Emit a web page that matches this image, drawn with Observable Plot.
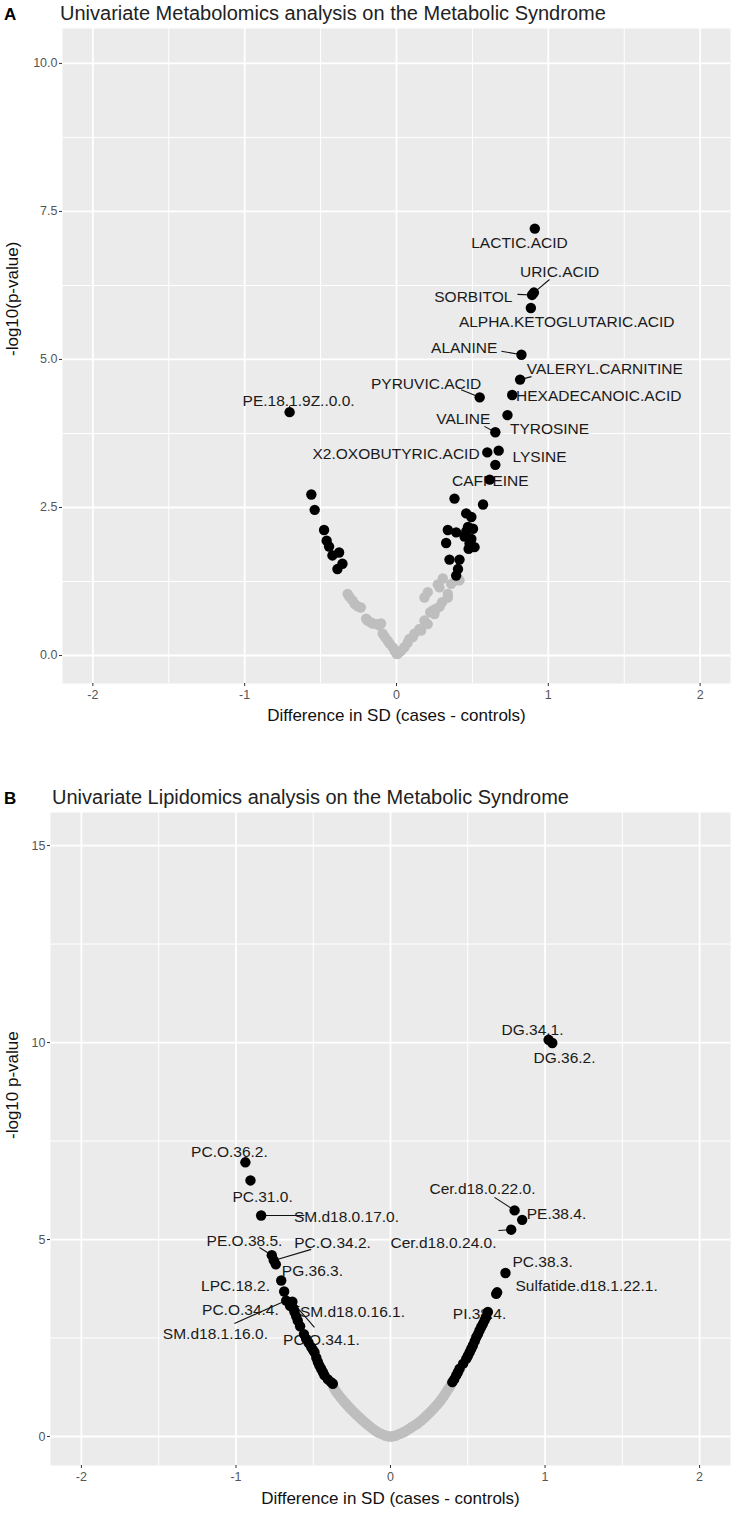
<!DOCTYPE html>
<html><head><meta charset="utf-8">
<script src="https://cdn.jsdelivr.net/npm/d3@7"></script>
<script src="https://cdn.jsdelivr.net/npm/@observablehq/plot@0.6"></script>
<style>
body{margin:0;background:#fff;font-family:"Liberation Sans",Arial,sans-serif;}
#page{position:relative;width:736px;height:1519px;overflow:hidden;background:#fff;}
.tag{position:absolute;font-weight:bold;font-size:17px;line-height:1;color:#000;z-index:2;}
.title{position:absolute;font-size:20px;line-height:1;color:#222;white-space:nowrap;z-index:2;}
.chart{position:absolute;left:0;z-index:1;}
</style></head><body>
<div id="page">
<div class="tag" style="left:4px;top:6px">A</div>
<div class="title" style="left:60px;top:3px">Univariate Metabolomics analysis on the Metabolic Syndrome</div>
<div id="chartA" class="chart" style="top:24px"></div>
<div class="tag" style="left:4px;top:790px">B</div>
<div class="title" style="left:52px;top:787px">Univariate Lipidomics analysis on the Metabolic Syndrome</div>
<div id="chartB" class="chart" style="top:804px"></div>
</div>
<script>
// ---------- shared axis ticks ----------
const xTicks = [-2, -1, 0, 1, 2];
const xMinor = [-1.5, -0.5, 0.5, 1.5];
const xTitle = "Difference in SD (cases - controls)";

// ---------- Panel A: metabolomics ----------
const metabNames = ["LACTIC.ACID","URIC.ACID","SORBITOL","ALPHA.KETOGLUTARIC.ACID","ALANINE","VALERYL.CARNITINE","HEXADECANOIC.ACID","PYRUVIC.ACID","PE.18.1.9Z..0.0.","TYROSINE","VALINE","LYSINE","X2.OXOBUTYRIC.ACID","CAFFEINE"];
const metabDiff  = [0.911,0.905,0.893,0.885,0.823,0.814,0.762,0.548,-0.704,0.731,0.651,0.673,0.598,0.614];
const metabLogP  = [7.21,6.13,6.09,5.87,5.08,4.66,4.40,4.36,4.11,4.06,3.77,3.46,3.43,2.97];
// label placement (repelled positions, data units) and leader-line starts
const metabLabX  = [0.810,1.074,0.506,1.121,0.446,1.372,1.332,0.195,-0.645,1.008,0.440,0.942,-0.003,0.618];
const metabLabY  = [6.96,6.47,6.05,5.64,5.20,4.83,4.39,4.58,4.29,3.82,3.99,3.36,3.41,2.94];
const metabSegX  = [null,1.008,0.797,null,0.691,0.889,null,0.426,-0.704,null,0.579,null,null,null];
const metabSegY  = [null,6.35,6.10,null,5.14,4.71,null,4.49,4.22,null,3.87,null,null,null];

const metabSigDiff = [0.651,0.382,0.570,0.459,0.493,0.338,0.393,0.471,0.504,0.448,0.493,0.481,0.327,0.475,0.514,0.349,0.415,0.405,0.393,0.460,0.487,-0.561,-0.539,-0.477,-0.460,-0.444,-0.378,-0.422,-0.356,-0.389];
const metabSigLogP = [3.22,2.65,2.55,2.40,2.34,2.12,2.08,2.17,2.14,2.01,1.97,1.89,1.90,1.80,1.83,1.62,1.62,1.46,1.35,2.10,1.93,2.72,2.46,2.12,1.94,1.84,1.74,1.69,1.55,1.46];

const metabNsDiff = [-0.322,-0.31,-0.29,-0.275,-0.255,-0.235,-0.20,-0.19,-0.17,-0.157,-0.13,-0.114,-0.102,-0.091,-0.075,-0.058,-0.045,-0.025,-0.012,0.0,0.008,0.02,0.03,0.052,0.074,0.085,0.107,0.118,0.151,0.162,0.184,0.206,0.222,0.239,0.25,0.261,0.283,0.30,0.338,0.36,0.393,0.415,0.184,0.206,0.272,0.305,0.338,0.283];
const metabNsLogP = [1.04,0.99,0.93,0.87,0.83,0.81,0.62,0.59,0.56,0.54,0.53,0.51,0.54,0.37,0.31,0.25,0.20,0.14,0.08,0.03,0.03,0.06,0.08,0.14,0.22,0.28,0.31,0.37,0.45,0.42,0.59,0.53,0.73,0.76,0.70,0.79,0.82,0.90,0.98,1.21,1.27,1.27,0.98,1.07,1.20,1.30,1.04,1.15];

const yTicksA = [0, 2.5, 5, 7.5, 10];
const yMinorA = [1.25, 3.75, 6.25, 8.75];

// ---------- Panel B: lipidomics ----------
const lipidNames = ["DG.34.1.","DG.36.2.","PC.O.36.2.","PC.31.0.","SM.d18.0.17.0.","Cer.d18.0.22.0.","PE.38.4.","Cer.d18.0.24.0.","PE.O.38.5.","PC.O.34.2.","PG.36.3.","PC.38.3.","Sulfatide.d18.1.22.1.","LPC.18.2.","PC.O.34.4.","SM.d18.0.16.1.","PI.38.4.","SM.d18.1.16.0.","PC.O.34.1."];
const lipidDiff  = [1.023,1.047,-0.939,-0.906,-0.837,0.803,0.852,0.781,-0.768,-0.755,-0.742,0.744,0.684,-0.707,-0.688,-0.650,0.630,-0.675,-0.635];
const lipidLogP  = [10.07,9.99,6.96,6.50,5.61,5.74,5.50,5.25,4.60,4.47,4.37,4.15,3.62,3.96,3.68,3.32,3.16,3.45,3.42];
const lipidLabX  = [0.919,1.126,-1.042,-0.828,-0.285,0.595,1.074,0.343,-0.945,-0.375,-0.505,0.984,1.269,-1.003,-0.971,-0.246,0.576,-1.133,-0.447];
const lipidLabY  = [10.33,9.62,7.23,6.09,5.58,6.27,5.66,4.92,4.97,4.92,4.21,4.42,3.81,3.83,3.20,3.15,3.12,2.61,2.44];
const lipidSegX  = [null,null,null,null,-0.557,0.673,null,0.699,-0.848,-0.513,null,null,null,null,null,-0.589,null,-1.010,-0.492];
const lipidSegY  = [null,null,null,null,5.61,6.07,null,5.23,4.80,4.75,null,null,null,null,null,3.30,null,2.87,2.77];

const lipidSigDiff = [-0.628,-0.621,-0.610,-0.600,-0.585,-0.560,-0.546,-0.530,-0.513,-0.502,-0.492,-0.480,-0.470,-0.460,-0.449,-0.437,-0.427,-0.405,-0.385,-0.373,
  0.400,0.412,0.425,0.436,0.447,0.470,0.490,0.501,0.512,0.522,0.533,0.545,0.555,0.566,0.576,0.587,0.598,0.609,0.619,0.690];
const lipidSigLogP = [3.25,3.16,3.05,2.94,2.80,2.60,2.48,2.38,2.27,2.20,2.14,2.00,1.89,1.80,1.72,1.63,1.55,1.45,1.38,1.34,
  1.38,1.45,1.55,1.63,1.72,1.85,1.97,2.05,2.14,2.22,2.31,2.42,2.52,2.60,2.69,2.78,2.86,2.95,3.03,3.66];

const lipidNsDiff = [-0.368,-0.36,-0.352,-0.343,-0.334,-0.325,-0.316,-0.306,-0.297,-0.288,-0.279,-0.270,-0.260,-0.250,-0.240,-0.230,-0.219,-0.208,-0.197,-0.186,-0.175,-0.163,-0.151,-0.139,-0.127,-0.115,-0.103,-0.091,-0.079,-0.067,-0.055,-0.043,-0.031,-0.019,-0.008,
  0.008,0.019,0.031,0.043,0.055,0.067,0.079,0.091,0.103,0.115,0.127,0.139,0.151,0.163,0.175,0.187,0.198,0.209,0.220,0.231,0.242,0.252,0.262,0.272,0.282,0.292,0.302,0.311,0.320,0.329,0.338,0.347,0.355,0.363,0.371,0.38,0.39];
const lipidNsLogP = [1.25,1.19,1.14,1.09,1.05,1.00,0.96,0.91,0.87,0.83,0.79,0.75,0.71,0.67,0.63,0.59,0.55,0.51,0.47,0.43,0.39,0.35,0.31,0.27,0.23,0.20,0.16,0.13,0.10,0.08,0.06,0.04,0.02,0.01,0.0,
  0.0,0.01,0.02,0.04,0.06,0.08,0.10,0.12,0.15,0.18,0.21,0.24,0.27,0.30,0.33,0.37,0.40,0.44,0.48,0.52,0.56,0.60,0.64,0.68,0.72,0.77,0.81,0.85,0.89,0.94,0.99,1.04,1.09,1.14,1.19,1.24,1.30];

const yTicksB = [0, 5, 10, 15];
const yMinorB = [2.5, 7.5, 12.5];

// ---------- build ----------
const FONT = '"Liberation Sans", Arial, sans-serif';
const zipPts = (xs, ys) => xs.map((x, i) => ({x, y: ys[i]}));
const zipLab = (names, xs, ys, lx, ly, sx, sy) => names.map((name, i) => ({name, x: xs[i], y: ys[i], lx: lx[i], ly: ly[i], sx: sx[i], sy: sy[i]}));

function volcano(o) {
  const labeled = zipLab(o.names, o.diff, o.logp, o.labX, o.labY, o.segX, o.segY);
  const segs = labeled.filter(d => d.sx != null);
  return Plot.plot({
    width: 736, height: o.height,
    marginTop: o.marginTop, marginBottom: o.marginBottom, marginLeft: o.marginLeft, marginRight: 6,
    x: {domain: [-2.2, 2.2], axis: null},
    y: {domain: o.yDomain, axis: null},
    style: {fontFamily: FONT, fontSize: "12.5px", color: "#555", background: "transparent", overflow: "visible"},
    marks: [
      Plot.frame({fill: "#ebebeb", stroke: "none"}),
      Plot.ruleX(xMinor, {stroke: "white", strokeWidth: 1}),
      Plot.ruleY(o.yMinor, {stroke: "white", strokeWidth: 1}),
      Plot.ruleX(xTicks, {stroke: "white", strokeWidth: 1.8}),
      Plot.ruleY(o.yTicks, {stroke: "white", strokeWidth: 1.8}),
      Plot.axisX({ticks: xTicks, tickSize: 3, tickPadding: 4, tickFormat: d => String(d), label: null, stroke: "#333"}),
      Plot.axisY({ticks: o.yTicks, tickSize: 3, tickPadding: 2, tickFormat: o.yFmt, label: null, stroke: "#333"}),
      Plot.text([xTitle], {text: d => d, frameAnchor: "bottom", dy: o.xTitleDy, fontSize: 17, fill: "#111"}),
      Plot.text([o.yTitle], {text: d => d, frameAnchor: "left", dx: o.yTitleDx, rotate: -90, fontSize: 17, fill: "#111"}),
      Plot.dot(zipPts(o.nsDiff, o.nsLogP), {x: "x", y: "y", r: 5.2, fill: "#bebebe"}),
      Plot.link(segs, {x1: "sx", y1: "sy", x2: "x", y2: "y", stroke: "#111", strokeWidth: 1.1}),
      Plot.text(labeled, {x: "lx", y: "ly", text: "name", fontSize: 15.5, fill: "#1a1a1a"}),
      Plot.dot(zipPts(o.sigDiff, o.sigLogP), {x: "x", y: "y", r: 5.2, fill: "black"}),
      Plot.dot(labeled, {x: "x", y: "y", r: 5.2, fill: "black"})
    ]
  });
}

document.getElementById("chartA").append(volcano({
  height: 712, marginTop: 4, marginBottom: 53, marginLeft: 62,
  yDomain: [-0.473, 10.59], yTicks: yTicksA, yMinor: yMinorA, yFmt: d => d.toFixed(1),
  yTitle: "-log10(p-value)", xTitleDy: 37, yTitleDx: -50,
  names: metabNames, diff: metabDiff, logp: metabLogP, labX: metabLabX, labY: metabLabY, segX: metabSegX, segY: metabSegY,
  sigDiff: metabSigDiff, sigLogP: metabSigLogP, nsDiff: metabNsDiff, nsLogP: metabNsLogP
}));

document.getElementById("chartB").append(volcano({
  height: 715, marginTop: 8, marginBottom: 54, marginLeft: 50,
  yDomain: [-0.736, 15.84], yTicks: yTicksB, yMinor: yMinorB, yFmt: d => String(d),
  yTitle: "-log10 p-value", xTitleDy: 38, yTitleDx: -38,
  names: lipidNames, diff: lipidDiff, logp: lipidLogP, labX: lipidLabX, labY: lipidLabY, segX: lipidSegX, segY: lipidSegY,
  sigDiff: lipidSigDiff, sigLogP: lipidSigLogP, nsDiff: lipidNsDiff, nsLogP: lipidNsLogP
}));
</script>
</body></html>
